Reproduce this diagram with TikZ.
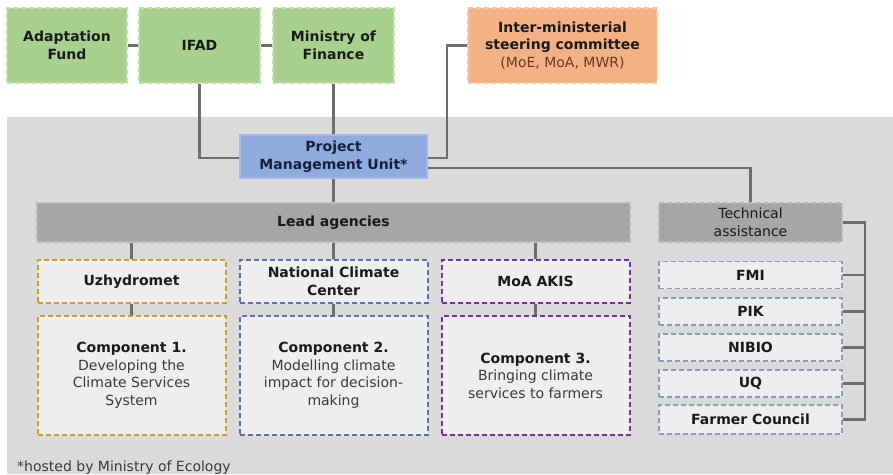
\documentclass[tikz,border=0pt]{standalone}
\usepackage{fontspec}
\setmainfont{DejaVu Sans}
\begin{document}
\begin{tikzpicture}[x=1pt,y=-1pt,
  every node/.style={inner sep=1pt, font=\fontsize{14}{17.5}\selectfont, align=center},
  base/.style={rectangle, line width=1.3pt},
  dsh/.style={dash pattern=on 5pt off 3pt},
  greenbox/.style={base, fill=grnF, draw=grnD, dsh, minimum width=121pt, minimum height=75pt, text=txtD, font=\fontsize{14}{17.5}\selectfont\bfseries},
  orangebox/.style={base, fill=orgF, draw=orgD, dsh, minimum width=189pt, minimum height=75pt, text=txtD},
  pmubox/.style={base, fill=bluF, draw=bluD, minimum width=187pt, minimum height=43pt, text=navy, font=\fontsize{14}{17.5}\selectfont\bfseries},
  graybar/.style={base, fill=barF, draw=barD, dsh, minimum height=39pt, text=txtD},
  agency/.style={base, fill=boxF, dsh, line width=2pt, minimum width=188pt, minimum height=43pt, text=txtD, font=\fontsize{14}{17.5}\selectfont\bfseries},
  compbox/.style={base, fill=boxF, dsh, line width=2pt, minimum width=188pt, minimum height=119pt, text=txtG},
  techbox/.style={base, fill=boxF, draw=tecD, dsh, line width=1.3pt, minimum width=183pt, minimum height=27pt, text=txtD, font=\fontsize{14}{17.5}\selectfont\bfseries},
  link/.style={draw=lnk, line width=2.2pt}
]
\definecolor{grnF}{HTML}{A9D18E}
\definecolor{grnD}{HTML}{C3DEB0}
\definecolor{orgF}{HTML}{F4B183}
\definecolor{orgD}{HTML}{F7C7A3}
\definecolor{bluF}{HTML}{8FAADC}
\definecolor{bluD}{HTML}{A4BAE2}
\definecolor{barF}{HTML}{A6A6A6}
\definecolor{barD}{HTML}{B8B8B8}
\definecolor{bgF}{HTML}{DADADA}
\definecolor{boxF}{HTML}{EEEEF1}
\definecolor{yelD}{HTML}{C8A318}
\definecolor{nccD}{HTML}{5572B0}
\definecolor{purD}{HTML}{7030A0}
\definecolor{tecD}{HTML}{8E9AB4}
\definecolor{lnk}{HTML}{6E6E6E}
\definecolor{txtD}{HTML}{1A1A1A}
\definecolor{txtG}{HTML}{3A3A3A}
\definecolor{navy}{HTML}{14213D}
\definecolor{brown}{HTML}{6B3A1E}

\useasboundingbox (0,0) rectangle (893,474);
\fill[white] (0,0) rectangle (893,474);
\fill[bgF] (7,117) rectangle (893,474);

% connectors drawn first (under boxes)
\coordinate (imscbend) at (447,45.5);
\coordinate (brtop) at (865,222.5);
\coordinate (brbot) at (865,419.5);

% top row
\node[greenbox, minimum width=120pt] (af) at (67,45.5) {Adaptation\\Fund};
\node[greenbox] (ifad) at (199.5,45.5) {IFAD};
\node[greenbox] (mof) at (333.5,45.5) {Ministry of\\Finance};
\node[orangebox] (imsc) at (562.5,45.5) {\textbf{Inter-ministerial}\\\textbf{steering committee}\\\textcolor{brown}{(MoE, MoA, MWR)}};

% PMU
\node[pmubox] (pmu) at (333.5,156.5) {Project\\Management Unit*};

% bars
\node[graybar, minimum width=593pt, font=\fontsize{14}{17.5}\selectfont\bfseries] (lead) at (333.5,222.5) {Lead agencies};
\node[graybar, minimum width=183pt] (ta) at (750.5,222.5) {Technical\\assistance};

% agencies
\node[agency, draw=yelD] (uzh) at (131.5,281.5) {Uzhydromet};
\node[agency, draw=nccD] (ncc) at (333.5,281.5) {National Climate\\Center};
\node[agency, draw=purD] (moa) at (535.5,281.5) {MoA AKIS};

% components
\node[compbox, draw=yelD] (c1) at (131.5,375.5) {\textbf{\textcolor{txtD}{Component 1.}}\\Developing the\\Climate Services\\System};
\node[compbox, draw=nccD] (c2) at (333.5,375.5) {\textbf{\textcolor{txtD}{Component 2.}}\\Modelling climate\\impact for decision-\\making};
\node[compbox, draw=purD] (c3) at (535.5,375.5) {\textbf{\textcolor{txtD}{Component 3.}}\\Bringing climate\\services to farmers};

% technical partners
\node[techbox] (fmi) at (750.5,275) {FMI};
\node[techbox] (pik) at (750.5,311.5) {PIK};
\node[techbox] (nibio) at (750.5,347.5) {NIBIO};
\node[techbox] (uq) at (750.5,383.5) {UQ};
\node[techbox, minimum height=29pt] (fc) at (750.5,419.5) {Farmer Council};

% footnote
\node[anchor=base west, inner sep=0pt, text=txtG] (note) at (17,471) {*hosted by Ministry of Ecology};

% connectors
\draw[link] (af.east) -- (ifad.west);
\draw[link] (ifad.east) -- (mof.west);
\draw[link] (ifad.south) |- ([yshift=-1.5pt]pmu.west);
\draw[link] (mof.south) -- (pmu.north);
\draw[link] (imsc.west) -- (imscbend) |- ([yshift=-1.5pt]pmu.east);
\draw[link] ([yshift=-11.5pt]pmu.east) -| (ta.north);
\draw[link] (pmu.south) -- (lead.north);
\draw[link] (uzh.north) -- (uzh.north |- lead.south);
\draw[link] (ncc.north) -- (lead.south);
\draw[link] (moa.north) -- (moa.north |- lead.south);
\draw[link] (uzh.south) -- (c1.north);
\draw[link] (ncc.south) -- (c2.north);
\draw[link] (moa.south) -- (c3.north);
\draw[link] (ta.east) -- (brtop) -- (brbot) -- (fc.east);
\draw[link] (fmi.east) -- (fmi.east -| brtop);
\draw[link] (pik.east) -- (pik.east -| brtop);
\draw[link] (nibio.east) -- (nibio.east -| brtop);
\draw[link] (uq.east) -- (uq.east -| brtop);
\end{tikzpicture}
\end{document}
